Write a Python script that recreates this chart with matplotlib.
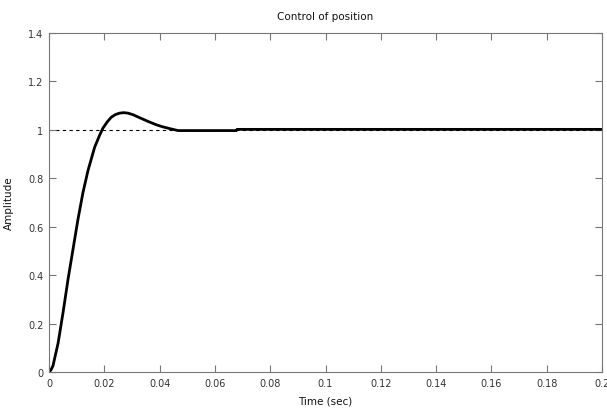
import matplotlib
matplotlib.use("Agg")
import matplotlib.pyplot as plt
import numpy as np

# Step response samples
t = [0.0, 0.0007, 0.00145, 0.0033, 0.0051, 0.0069, 0.0087, 0.0105, 0.0123,
     0.0141, 0.0165, 0.0182, 0.0195, 0.021, 0.0225, 0.024, 0.0255, 0.027,
     0.0286, 0.0305, 0.0328, 0.036, 0.0388, 0.041, 0.0437, 0.0467,
     0.0678, 0.0680, 0.2]
amp = [0.0, 0.008, 0.026, 0.12, 0.247, 0.384, 0.508, 0.632, 0.742,
       0.832, 0.928, 0.975, 1.007, 1.032, 1.052, 1.063, 1.069, 1.071,
       1.069, 1.062, 1.050, 1.034, 1.021, 1.013, 1.005, 0.997,
       0.997, 1.002, 1.002]
setpoint = 1.0

xticks = [0, 0.02, 0.04, 0.06, 0.08, 0.1, 0.12, 0.14, 0.16, 0.18, 0.2]
xticklabels = ["0", "0.02", "0.04", "0.06", "0.08", "0.1", "0.12", "0.14", "0.16", "0.18", "0.2"]
yticks = [0, 0.2, 0.4, 0.6, 0.8, 1, 1.2, 1.4]
yticklabels = ["0", "0.2", "0.4", "0.6", "0.8", "1", "1.2", "1.4"]

fig = plt.figure(figsize=(6.07, 4.14), dpi=100)
ax = fig.add_axes([49/607, 41/414, 553/607, 339/414])

ax.axhline(setpoint, color="black", linestyle=(0, (3, 3)), linewidth=0.8, zorder=1)
ax.plot(t, amp, color="black", linewidth=2.0, zorder=2, solid_joinstyle="round")

ax.set_xlim(0, 0.2)
ax.set_ylim(0, 1.4)
ax.set_xticks(xticks)
ax.set_xticklabels(xticklabels)
ax.set_yticks(yticks)
ax.set_yticklabels(yticklabels)

for s in ax.spines.values():
    s.set_color("#777777")
    s.set_linewidth(0.8)
ax.tick_params(direction="in", length=5, width=0.8, color="#777777",
               labelsize=7, labelcolor="#333333", top=True, right=True,
               labeltop=False, labelright=False, pad=4)

ax.set_title("Control of position", fontsize=7.5, color="#111111", pad=10)
ax.set_xlabel("Time (sec)", fontsize=7.5, color="#111111", labelpad=6)
ax.set_ylabel("Amplitude", fontsize=7.5, color="#111111", labelpad=10)

fig.savefig("out.png", dpi=100)
